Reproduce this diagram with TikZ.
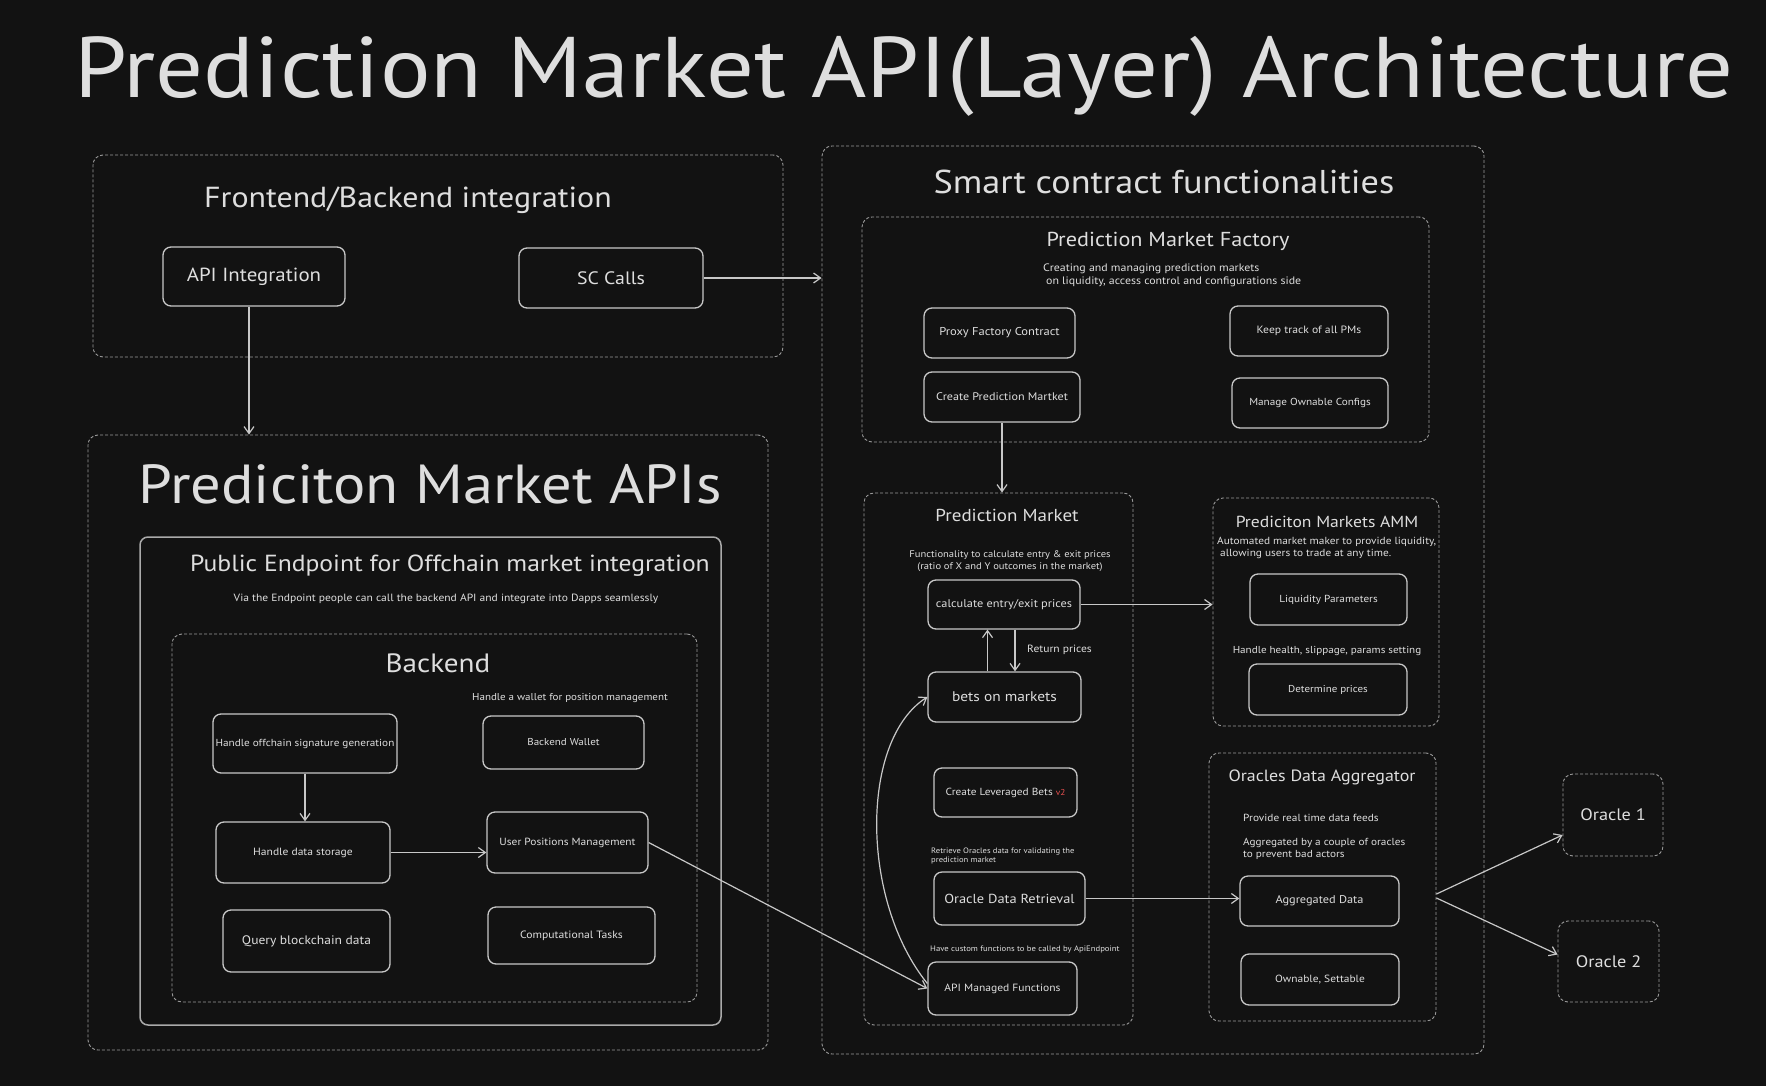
\documentclass[tikz,border=0pt]{standalone}
\usepackage{fontspec}
\setmainfont{PT Sans}[FakeStretch=1.1]
\usetikzlibrary{arrows.meta}
\definecolor{bg}{HTML}{121212}
\definecolor{fg}{HTML}{DEDEDE}
\definecolor{ln}{HTML}{C8C8C8}
\definecolor{dl}{HTML}{9A9A9A}
\definecolor{vred}{HTML}{E8504F}
\newcommand\fsz[1]{\fontsize{#1}{\fpeval{1.2*#1}}\selectfont}
\newcommand\mybox[7][]{\node[#1, minimum width={#4-#2}, minimum height={#5-#3}, align=center] (#6) at ({(#2+#4)/2},{(#3+#5)/2}) {#7};}
\begin{document}
\begin{tikzpicture}[x=1pt,y=-1pt,
  every node/.style={text=fg, inner sep=0pt},
  solidbox/.style={draw=ln, line width=1.3pt, rounded corners=8pt},
  pubbox/.style={draw=ln!85!black, line width=1.5pt, rounded corners=8pt},
  dashbox/.style={draw=dl, line width=0.9pt, dash pattern=on 3pt off 2pt, rounded corners=10pt},
  arr/.style={draw=ln, line width=1.2pt, -{Straight Barb[length=7pt,width=10pt]}},
  fs/.style={font=\fsz{#1}},
]
\useasboundingbox (0,0) rectangle (1766,1086);
\fill[bg] (0,0) rectangle (1766,1086);

\node[fs=86, anchor=base] (title) at (904,98) {Prediction Market API(Layer) Architecture};

% Frontend / Backend integration
\mybox[dashbox]{93}{155}{783}{357}{fe}{}
\node[fs=29] (fetitle) at (408,200) {Frontend/Backend integration};
\mybox[solidbox,fs=19]{163}{247}{345}{306}{api}{API Integration}
\mybox[solidbox,fs=18]{519}{248}{703}{308}{sc}{SC Calls}

% Prediction market APIs
\mybox[dashbox]{88}{435}{768}{1050}{apis}{}
\node[fs=55] (apistitle) at (430,484) {Prediciton Market APIs};
\mybox[pubbox]{140}{537}{721}{1025}{pub}{}
\node[fs=23.3] (pubtitle) at (450,566) {Public Endpoint for Offchain market integration};
\node[fs=10.5] (pubdesc) at (446,599) {Via the Endpoint people can call the backend API and integrate into Dapps seamlessly};
\mybox[dashbox]{172}{634}{697}{1002}{be}{}
\node[fs=26.5] (betitle) at (438,663) {Backend};
\node[fs=10] (walletnote) at (570,698) {Handle a wallet for position management};
\mybox[solidbox,fs=10.2]{213}{714}{397}{773}{sig}{Handle offchain signature generation}
\mybox[solidbox,fs=10]{483}{716}{644}{769}{wallet}{Backend Wallet}
\mybox[solidbox,fs=10.5]{216}{822}{390}{883}{store}{Handle data storage}
\mybox[solidbox,fs=10.4]{487}{812}{648}{873}{upm}{User Positions Management}
\mybox[solidbox,fs=12.3]{223}{910}{390}{972}{query}{Query blockchain data}
\mybox[solidbox,fs=10.6]{488}{907}{655}{964}{comp}{Computational Tasks}

% Smart contract functionalities
\mybox[dashbox]{822}{146}{1484}{1054}{smart}{}
\node[fs=33] (smtitle) at (1164,182) {Smart contract functionalities};
\mybox[dashbox]{862}{217}{1429}{442}{fac}{}
\node[fs=20.2] (factitle) at (1168,241) {Prediction Market Factory};
\node[fs=10.8, anchor=west, align=left] (facdesc) at (1043,275) {Creating and managing prediction markets\\\hspace{3pt}on liquidity, access control and configurations side};
\mybox[solidbox,fs=11.4]{924}{308}{1075}{358}{proxy}{Proxy Factory Contract}
\mybox[solidbox,fs=11]{924}{372}{1080}{422}{create}{Create Prediction Martket}
\mybox[solidbox,fs=10.6]{1230}{306}{1388}{356}{track}{Keep track of all PMs}
\mybox[solidbox,fs=10.2]{1232}{378}{1388}{428}{owncfg}{Manage Ownable Configs}

\mybox[dashbox]{864}{493}{1133}{1025}{pm}{}
\node[fs=17.3] (pmtitle) at (1007,515) {Prediction Market};
\node[fs=9.6, align=center] (pmdesc) at (1010,561) {Functionality to calculate entry \& exit prices\\(ratio of X and Y outcomes in the market)};
\mybox[solidbox,fs=11.2]{928}{580}{1080}{629}{calc}{calculate entry/exit prices}
\mybox[solidbox,fs=14]{928}{672}{1081}{722}{bets}{bets on markets}
\node[fs=10.5, anchor=west] (retp) at (1027,650) {Return prices};
\mybox[solidbox,fs=10.3]{934}{768}{1077}{817}{lev}{Create Leveraged Bets {\fsz{8.5}\textcolor{vred}{v2}}}
\node[fs=7.8, anchor=west, align=left] (odrnote) at (931,856) {Retrieve Oracles data for validating the\\prediction market};
\mybox[solidbox,fs=13.1]{934}{872}{1085}{925}{odr}{Oracle Data Retrieval}
\node[fs=7.9, anchor=west] (amfnote) at (930,949) {Have custom functions to be called by ApiEndpoint};
\mybox[solidbox,fs=10.5]{928}{962}{1077}{1015}{amf}{API Managed Functions}

\mybox[dashbox]{1213}{498}{1439}{726}{amm}{}
\node[fs=16] (ammtitle) at (1327,522) {Prediciton Markets AMM};
\node[fs=10.3, anchor=west, align=left] (ammdesc) at (1217,548) {Automated market maker to provide liquidity,\\\hspace{3pt}allowing users to trade at any time.};
\mybox[solidbox,fs=10.2]{1250}{574}{1407}{625}{liq}{Liquidity Parameters}
\node[fs=10.1] (ammnote) at (1327,651) {Handle health, slippage, params setting};
\mybox[solidbox,fs=10]{1249}{664}{1407}{715}{det}{Determine prices}

\mybox[dashbox]{1209}{753}{1436}{1021}{oda}{}
\node[fs=16.3] (odatitle) at (1322,777) {Oracles Data Aggregator};
\node[fs=10.3, anchor=west] (odan1) at (1243,818) {Provide real time data feeds};
\node[fs=10.2, anchor=west, align=left] (odan2) at (1243,849) {Aggregated by a couple of oracles\\to prevent bad actors};
\mybox[solidbox,fs=11.2]{1240}{876}{1399}{926}{agg}{Aggregated Data}
\mybox[solidbox,fs=10.4]{1241}{954}{1399}{1005}{ownset}{Ownable, Settable}

\mybox[dashbox,fs=16.6]{1563}{774}{1663}{856}{o1}{Oracle 1}
\mybox[dashbox,fs=16.6]{1558}{921}{1659}{1002}{o2}{Oracle 2}

% connectors
\draw[arr] ([xshift=-5pt]api.south) -- ([xshift=-5pt]api.south |- apis.north);
\draw[arr] (sc.east) -- (sc.east -| smart.west);
\draw[arr] (sig.south) -- (sig.south |- store.north);
\draw[arr] (store.east) -- (store.east -| upm.west);
\draw[arr] (upm.east) -- (amf.west);
\draw[arr] (create.south) -- (create.south |- pm.north);
\draw[arr] ([xshift=-17pt]bets.north) -- ([xshift=-17pt]bets.north |- calc.south);
\draw[arr] ([xshift=11pt]calc.south) -- ([xshift=11pt]calc.south |- bets.north);
\draw[arr] (calc.east) -- (calc.east -| amm.west);
\draw[arr] (odr.east) -- (odr.east -| agg.west);
\draw[arr] ([yshift=-7pt]oda.east) -- ([yshift=-20pt]o1.west);
\draw[arr] ([yshift=-11pt]oda.east) -- ([yshift=7pt]o2.west);
\draw[arr] ([yshift=5pt]amf.west) .. controls (860,900) and (860,740) .. (bets.west);
\end{tikzpicture}
\end{document}
